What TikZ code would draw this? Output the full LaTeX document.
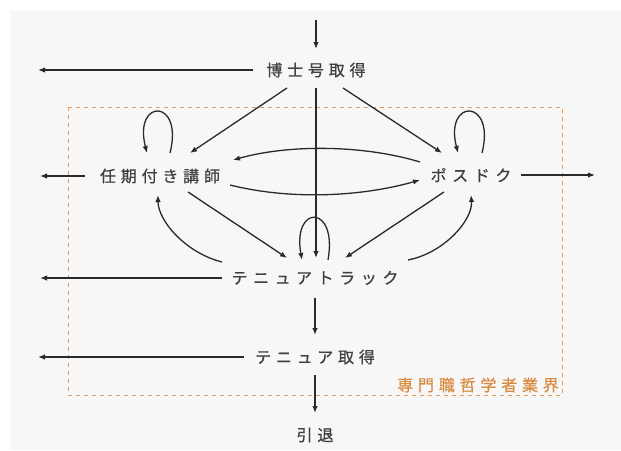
\documentclass[tikz,border=0pt]{standalone}
\usepackage{fontspec}
\newfontfamily\jp[LetterSpace=30,FakeBold=0.6]{Noto Sans CJK JP}
\newfontfamily\jpk[LetterSpace=35,FakeBold=0.6]{Noto Sans CJK JP}
\usetikzlibrary{calc,arrows.meta}
\definecolor{bgc}{HTML}{F7F7F7}
\definecolor{linec}{HTML}{2A2A2A}
\definecolor{txtc}{HTML}{404040}
\definecolor{orng}{HTML}{EA9A55}
\definecolor{orngtxt}{HTML}{D88A40}
\begin{document}
\begin{tikzpicture}[x=1pt,y=-1pt,
  lab/.style={font=\jp\fontsize{16}{16}\selectfont, text=txtc, inner sep=0pt},
  labk/.style={font=\jpk\fontsize{16}{16}\selectfont, text=txtc, inner sep=0pt},
  arr/.style={draw=linec, line width=1.3pt, -{Latex[length=7pt,width=5.5pt]}},
  zone/.style={draw=orng, line width=1pt, dash pattern=on 4pt off 4pt},
]
\useasboundingbox (0,0) rectangle (621,450);
\fill[white] (0,0) rectangle (621,450);
\fill[bgc] (10,10) rectangle (621,450);

% zone
\draw[zone] (68,107) rectangle (562,395);
\node[font=\jp\fontsize{16}{16}\selectfont, text=orngtxt, inner sep=0pt, anchor=east] (zl) at (559,385) {専門職哲学者業界};

% nodes
\node[lab]  (phd)  at (316,70)  {博士号取得};
\node[lab]  (lect) at (160,176) {任期付き講師};
\node[labk] (pd)   at (471,175) {ポスドク};
\node[labk] (tt)   at (315,278) {テニュアトラック};
\node[lab]  (ten)  at (315,357) {テニュア取得};
\node[lab]  (ret)  at (315,435) {引退};

\coordinate (in) at (316,20);
\coordinate (w1) at (38,70);
\coordinate (w2) at (40,176);
\coordinate (e2) at (595,175);
\coordinate (w3) at (40,278);
\coordinate (w4) at (38,357);

% entry and exits
\draw[arr] (in) -- ($(phd)+(0,-21)$);
\draw[arr] ($(phd)+(-63,0)$) -- (w1);
\draw[arr] ($(lect)+(-75,0)$) -- (w2);
\draw[arr] ($(pd)+(50,0)$) -- (e2);
\draw[arr] ($(tt)+(-93,0)$) -- (w3);
\draw[arr] ($(ten)+(-71,0)$) -- (w4);

% from PhD
\draw[arr] ($(phd)+(-29,18)$) -- ($(lect)+(30,-23)$);
\draw[arr] ($(phd)+(27,18)$) -- ($(pd)+(-29,-22)$);
\draw[arr] ($(phd)+(0,18)$) -- ($(tt)+(1,-20)$);

% self loops
\draw[arr] ($(lect)+(10,-23)$) .. controls ($(lect)+(24,-78)$) and ($(lect)+(-27,-78)$) .. ($(lect)+(-13,-23)$);
\draw[arr] ($(pd)+(11,-22)$) .. controls ($(pd)+(25,-77)$) and ($(pd)+(-27,-77)$) .. ($(pd)+(-13,-22)$);
\draw[arr] ($(tt)+(13,-18)$) .. controls ($(tt)+(23,-74)$) and ($(tt)+(-23,-74)$) .. ($(tt)+(-13,-18)$);

% between lecturer and postdoc
\draw[arr] ($(pd)+(-51,-13)$) .. controls ($(pd)+(-107,-30)$) and ($(lect)+(130,-32)$) .. ($(lect)+(73,-16)$);
\draw[arr] ($(lect)+(70,9)$) .. controls ($(lect)+(130,24)$) and ($(pd)+(-111,22)$) .. ($(pd)+(-51,5)$);

% into tenure track
\draw[arr] ($(lect)+(28,16)$) -- ($(tt)+(-28,-20)$);
\draw[arr] ($(pd)+(-27,17)$) -- ($(tt)+(30,-20)$);

% tenure track back to lecturer / postdoc
\draw[arr] ($(tt)+(-93,-16)$) .. controls ($(tt)+(-129,-25)$) and ($(lect)+(-2,45)$) .. ($(lect)+(-2,19)$);
\draw[arr] ($(tt)+(93,-18)$) .. controls ($(tt)+(129,-25)$) and ($(pd)+(2,45)$) .. ($(pd)+(0,20)$);

% down the ladder
\draw[arr] ($(tt)+(0,20)$) -- ($(ten)+(0,-22)$);
\draw[arr] ($(ten)+(0,18)$) -- ($(ret)+(0,-22)$);
\end{tikzpicture}
\end{document}
